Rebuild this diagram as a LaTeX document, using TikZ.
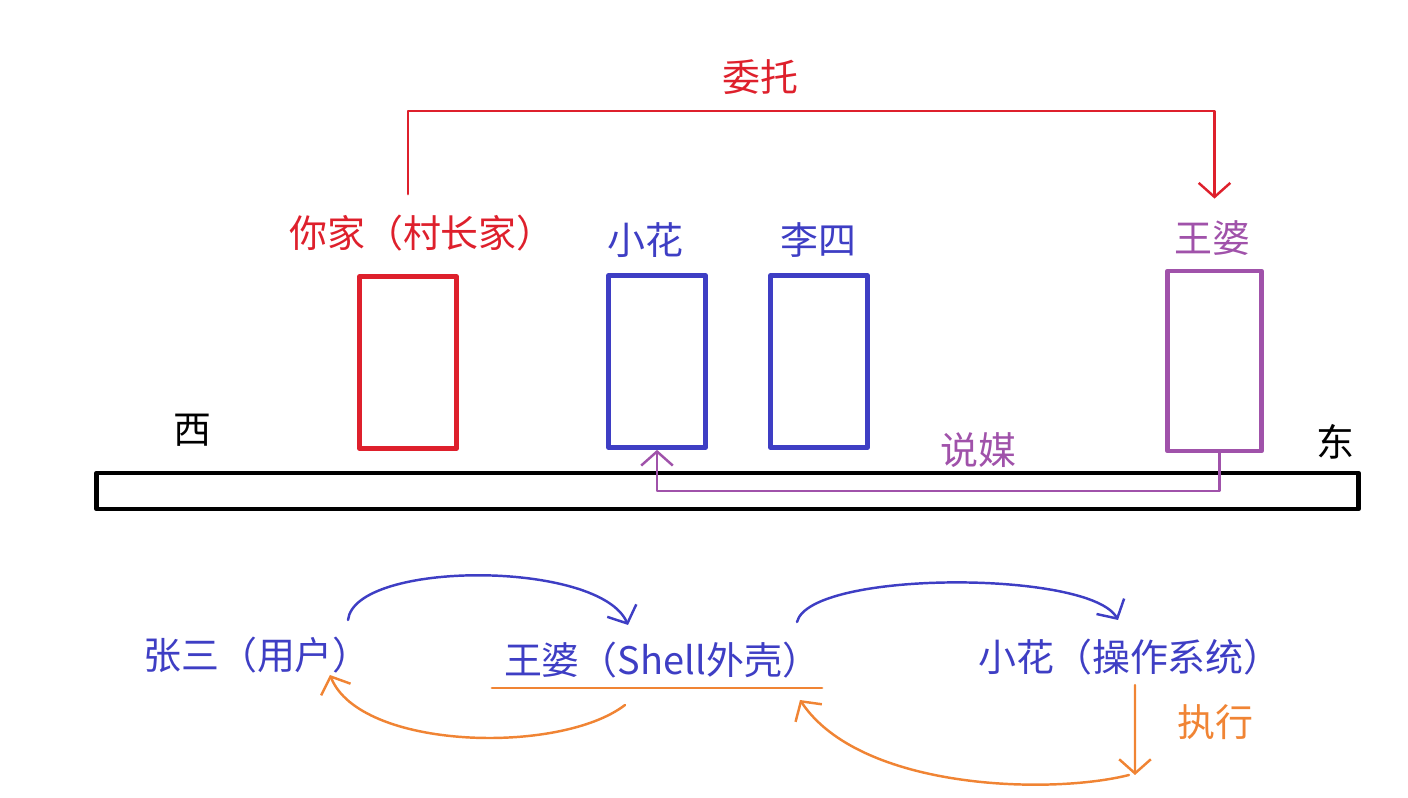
\documentclass[tikz,border=0pt]{standalone}
\usepackage{fontspec}
\setmainfont{Noto Sans CJK SC}
\usetikzlibrary{arrows.meta}
\definecolor{cunred}{RGB}{222,32,44}
\definecolor{huablue}{RGB}{62,62,196}
\definecolor{mediapurple}{RGB}{160,82,170}
\definecolor{runorange}{RGB}{240,132,52}
\begin{document}
\begin{tikzpicture}[font=\fontsize{10.8}{13}\selectfont, line join=round, line cap=round, >={Straight Barb[length=4pt,width=9pt]},
	house/.style={draw, line width=1.35pt, minimum width=0.97cm, minimum height=1.72cm, inner sep=0pt},
	lbl/.style={inner sep=0pt},
	link/.style={->, line width=0.7pt}]
	\useasboundingbox (0,0) rectangle (14.08,-7.98);
	% village road and houses
	\node[draw, line width=1.35pt, minimum width=12.62cm, minimum height=0.36cm, inner sep=0pt] (road) at (7.275,-4.91) {};
	\node[house, cunred] (home) at (4.08,-3.625) {};
	\node[house, huablue] (hua) at (6.57,-3.615) {};
	\node[house, huablue] (lisi) at (8.19,-3.615) {};
	\node[house, mediapurple, minimum width=0.94cm, minimum height=1.8cm] (wang) at (12.145,-3.61) {};
	\node[lbl, cunred] (homelbl) at (4.22,-2.33) {你家（村长家）};
	\node[lbl, huablue] (hualbl) at (6.45,-2.40) {小花};
	\node[lbl, huablue] (lisilbl) at (8.18,-2.40) {李四};
	\node[lbl, mediapurple] (wanglbl) at (12.12,-2.38) {王婆};
	\node[lbl] (west) at (1.92,-4.30) {西};
	\node[lbl] (east) at (13.35,-4.42) {东};
	\draw[link, cunred] ([yshift=8mm]home.north) -- ++(0,0.83) -| ([yshift=7mm]wang.north);
	\node[lbl, cunred] (entrust) at (7.60,-0.77) {委托};
	\draw[link, mediapurple] ([xshift=0.5mm]wang.south) |- (road.center) -| (hua.south);
	\node[lbl, mediapurple] (match) at (9.78,-4.50) {说媒};
	% user -> shell -> os
	\node[lbl, huablue] (user) at (2.57,-6.55) {张三（用户）};
	\node[lbl, huablue] (shell) at (6.62,-6.60) {王婆（Shell外壳）};
	\node[lbl, huablue] (os) at (11.30,-6.57) {小花（操作系统）};
	\node[lbl, runorange] (exec) at (12.15,-7.22) {执行};
	\coordinate (run) at (11.35,-7.75);
	\draw[line width=0.8pt, runorange] ([shift={(-1.70,-0.28)}]shell.center) -- ([shift={(1.60,-0.28)}]shell.center);
	\draw[link, huablue] ([shift={(0.91,0.35)}]user.center) .. controls (3.55,-5.6) and (6.0,-5.6) .. ([shift={(-0.34,0.35)}]shell.center);
	\draw[link, huablue] ([shift={(1.35,0.38)}]shell.center) .. controls (8.1,-5.7) and (10.9,-5.7) .. ([shift={(-0.12,0.37)}]os.center);
	\draw[link, runorange] ([shift={(0.05,-0.28)}]os.center) -- (run);
	\draw[link, runorange] ([xshift=-0.6mm]run) .. controls (10.5,-7.95) and (8.6,-7.9) .. ([shift={(1.38,-0.40)}]shell.center);
	\draw[link, runorange] ([shift={(-0.37,-0.45)}]shell.center) .. controls (5.6,-7.55) and (3.6,-7.5) .. ([shift={(0.73,-0.20)}]user.center);
\end{tikzpicture}
\end{document}
